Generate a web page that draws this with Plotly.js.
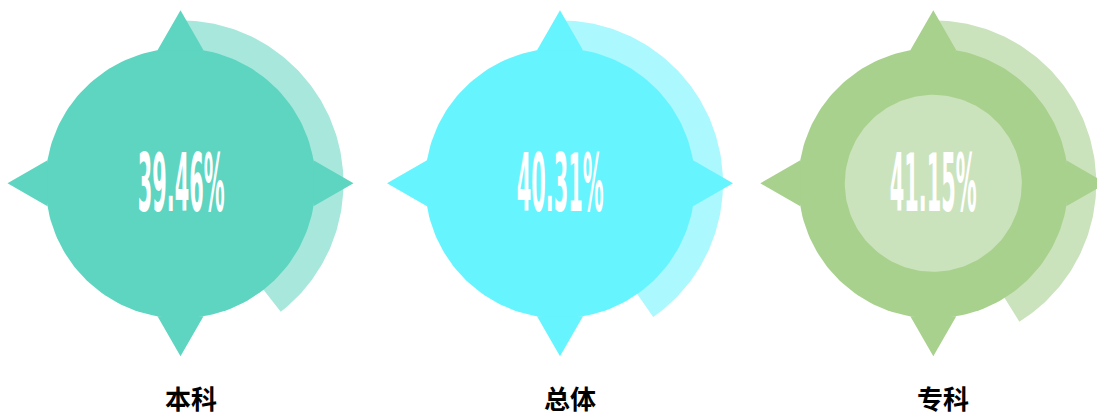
<!DOCTYPE html>
<html>
<head>
<meta charset="utf-8">
<script src="https://cdn.plot.ly/plotly-3.0.1.min.js"></script>
<style>
  html, body { margin: 0; padding: 0; background: #ffffff; }
  #chart { width: 1097px; height: 416px; }
</style>
</head>
<body>
<div id="chart"></div>
<script>
// ---- data ----
const categories = ['本科', '总体', '专科'];
const rates = [39.46, 40.31, 41.15];

// ---- styles / layout constants ----
const mainColors = ['#5DD5C0', '#66F4FE', '#A8D18D'];
const lightColors = ['#A8E8DC', '#ABF8FE', '#CBE3BC'];
const innerDisc = [false, false, true];
const centersX = [180.5, 560, 933.3];
const centerY = 183.3;
const R_CIRCLE = 135;
const R_RING_OUT = 163;
const R_RING_IN = 120;
const R_INNER = 88.5;
const TIP = 173;
const BASE_R = 133;
const BASE_HALF = 23;
const NUM_SIZE = 30;
const NUM_W = 87;
const NUM_H = 57;

function pt(cx, cy, r, deg) {
  const a = deg * Math.PI / 180;
  return [cx + r * Math.sin(a), cy - r * Math.cos(a)];
}

function disc(cx, cy, r) {
  const xs = [], ys = [];
  for (let d = 0; d <= 360; d += 2) { const p = pt(cx, cy, r, d); xs.push(p[0]); ys.push(p[1]); }
  return {xs, ys};
}

function ring(cx, cy, rin, rout, pct) {
  const end = pct / 100 * 360;
  const xs = [], ys = [];
  const n = Math.max(2, Math.ceil(end));
  for (let k = 0; k <= n; k++) { const p = pt(cx, cy, rout, end * k / n); xs.push(p[0]); ys.push(p[1]); }
  for (let k = n; k >= 0; k--) { const p = pt(cx, cy, rin, end * k / n); xs.push(p[0]); ys.push(p[1]); }
  return {xs, ys};
}

function star(cx, cy) {
  const xs = [], ys = [];
  [0, 90, 180, 270].forEach(d => {
    const a = d * Math.PI / 180;
    const ux = Math.sin(a), uy = -Math.cos(a);   // radial
    const vx = Math.cos(a), vy = Math.sin(a);    // tangential
    xs.push(cx + ux * TIP, cx + ux * BASE_R + vx * BASE_HALF, cx + ux * BASE_R - vx * BASE_HALF, cx + ux * TIP, null);
    ys.push(cy + uy * TIP, cy + uy * BASE_R + vy * BASE_HALF, cy + uy * BASE_R - vy * BASE_HALF, cy + uy * TIP, null);
  });
  return {xs, ys};
}

function poly(p, color) {
  return {
    type: 'scatter', mode: 'lines', x: p.xs, y: p.ys,
    fill: 'toself', fillcolor: color, line: {width: 0, color: color},
    hoverinfo: 'skip', showlegend: false, connectgaps: false
  };
}

const traces = [];
const annotations = [];
categories.forEach((cat, i) => {
  const cx = centersX[i];
  traces.push(poly(ring(cx, centerY, R_RING_IN, R_RING_OUT, rates[i]), lightColors[i]));
});
categories.forEach((cat, i) => {
  const cx = centersX[i];
  traces.push(poly(disc(cx, centerY, R_CIRCLE), mainColors[i]));
  traces.push(poly(star(cx, centerY), mainColors[i]));
  if (innerDisc[i]) traces.push(poly(disc(cx, centerY, R_INNER), lightColors[i]));
  annotations.push({
    x: cx, y: centerY + 0.5, xref: 'x', yref: 'y', showarrow: false,
    text: rates[i].toFixed(2) + '%', xanchor: 'center', yanchor: 'middle',
    font: {family: '"Liberation Sans Narrow", "DejaVu Sans Condensed", "Liberation Sans", sans-serif', size: NUM_SIZE, color: '#ffffff', weight: 'bold'}
  });
  annotations.push({
    x: cx + 10, y: 397, xref: 'x', yref: 'y', showarrow: false,
    text: cat, xanchor: 'center', yanchor: 'middle',
    font: {family: '"Noto Sans CJK SC", sans-serif', size: 26, color: '#000000', weight: 'bold'}
  });
});

const layout = {
  width: 1097, height: 416,
  margin: {l: 0, r: 0, t: 0, b: 0, pad: 0},
  paper_bgcolor: '#ffffff', plot_bgcolor: '#ffffff',
  showlegend: false,
  xaxis: {range: [0, 1097], visible: false, fixedrange: true},
  yaxis: {range: [416, 0], visible: false, fixedrange: true},
  annotations: annotations
};

Plotly.newPlot('chart', traces, layout, {staticPlot: true, displayModeBar: false}).then(gd => {
  gd.querySelectorAll('.annotation-text').forEach(t => {
    if (t.textContent.indexOf('%') < 0) return;
    const b = t.getBBox();
    const sx = NUM_W / b.width;
    const sy = NUM_H / (0.716 * NUM_SIZE);
    t.style.transformBox = 'fill-box';
    t.style.transformOrigin = 'center';
    t.style.transform = 'scale(' + sx + ',' + sy + ')';
  });
});
</script>
</body>
</html>
